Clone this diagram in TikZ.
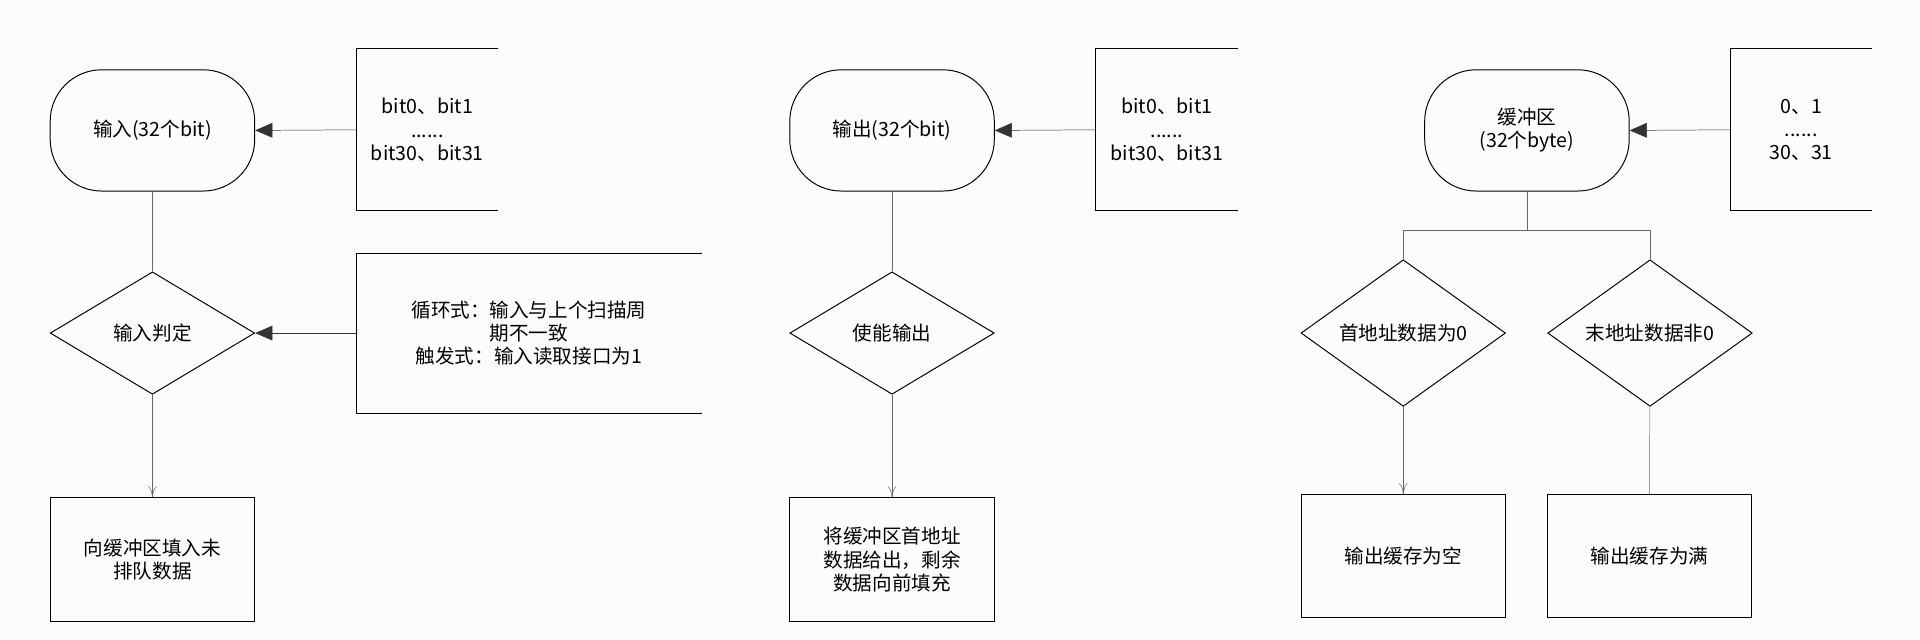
\documentclass[tikz,border=0pt]{standalone}
\usepackage{fontspec}
\setmainfont{Liberation Sans}
\newfontfamily\cjk{Noto Sans CJK SC}
\usetikzlibrary{shapes.geometric,arrows.meta}
\begin{document}
\begin{tikzpicture}[x=1pt,y=-1pt,
  every node/.style={font=\cjk\fontsize{16}{19}\selectfont,align=center,inner sep=0pt},
  stad/.style={draw,thick,rounded corners=42pt,minimum width=167pt,minimum height=99pt},
  dia/.style={draw,thick,diamond,minimum width=167pt,minimum height=100pt},
  rbox/.style={draw,thick,minimum width=167pt,minimum height=101pt},
  ann/.style={thick},
  fa/.style={-{Triangle[length=14pt,width=12pt]},draw=black!80},
  oa/.style={-{To[length=9pt,width=7pt]},draw=black!60},
  ln/.style={draw=black!60}]
\fill[black!1] (0,0) rectangle (1568,522);
\useasboundingbox (0,0) rectangle (1568,522);
% panel 1
\node[stad] (s1) at (124.5,106.5) {输入(32个bit)};
\coordinate (a1) at (291,106);
\draw[ann] (407,40) -- (291,40) -- (291,172) -- (407,172);
\node (t1) at (349,106) {bit0、bit1\\......\\bit30、bit31};
\draw[fa] (a1) -- (s1.east);
\node[dia] (d1) at (124.5,272) {输入判定};
\draw[ln] (s1) -- (d1);
\draw[ann] (573,207) -- (291,207) -- (291,338) -- (573,338);
\coordinate (a2) at (291,272);
\node (t2) at (432,272) {循环式：输入与上个扫描周\\期不一致\\触发式：输入读取接口为1};
\draw[fa] (a2) -- (d1.east);
\node[rbox] (b1) at (124.5,457) {向缓冲区填入未\\排队数据};
\draw[oa] (d1) -- (b1);
% panel 2
\node[stad] (s2) at (728.5,106.5) {输出(32个bit)};
\draw[ann] (1011,40) -- (895,40) -- (895,172) -- (1011,172);
\coordinate (a3) at (895,106);
\node (t3) at (953,106) {bit0、bit1\\......\\bit30、bit31};
\draw[fa] (a3) -- (s2.east);
\node[dia] (d2) at (728.5,272) {使能输出};
\draw[ln] (s2) -- (d2);
\node[rbox] (b2) at (728.5,457) {将缓冲区首地址\\数据给出，剩余\\数据向前填充};
\draw[oa] (d2) -- (b2);
% panel 3
\node[stad] (s3) at (1247,106.5) {缓冲区\\(32个byte)};
\draw[ann] (1529,40) -- (1413,40) -- (1413,172) -- (1529,172);
\coordinate (a4) at (1413,106);
\node (t4) at (1471,106) {0、1\\......\\30、31};
\draw[fa] (a4) -- (s3.east);
\node[dia] (d3) at (1146,272) {首地址数据为0};
\node[dia] (d4) at (1347.5,272) {末地址数据非0};
\draw[ln] (s3.south) -- ++(0,32) -| (d3.north);
\draw[ln] (s3.south) ++(0,32) -| (d4.north);
\node[rbox,minimum height=100pt] (b3) at (1146,454) {输出缓存为空};
\node[rbox,minimum height=100pt] (b4) at (1347,454) {输出缓存为满};
\draw[oa] (d3) -- (b3);
\draw[ln] (d4) -- (b4);
\end{tikzpicture}
\end{document}
